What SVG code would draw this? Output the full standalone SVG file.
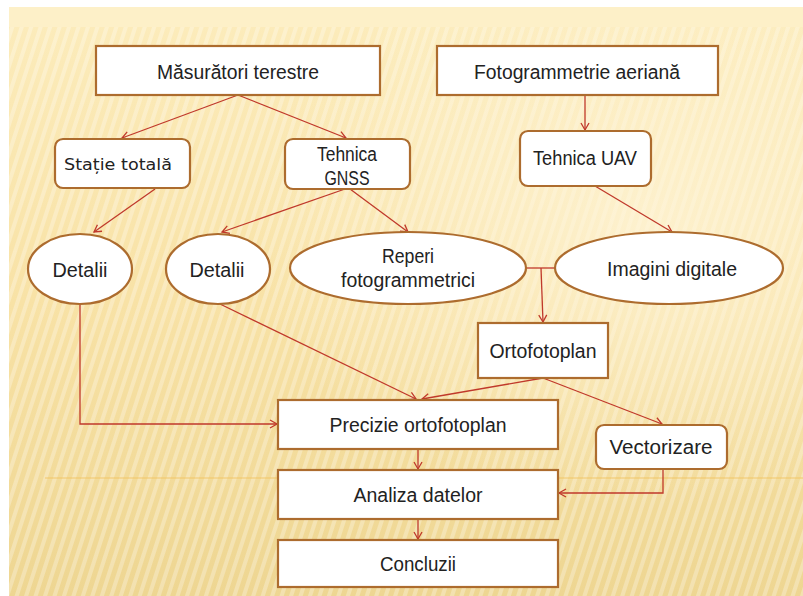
<svg xmlns="http://www.w3.org/2000/svg" width="803" height="596" viewBox="0 0 803 596">
<defs>
<linearGradient id="bg" x1="0" y1="0" x2="0" y2="1">
<stop offset="0" stop-color="#fcecbc"/>
<stop offset="0.5" stop-color="#f8e2a6"/>
<stop offset="1" stop-color="#eed692"/>
</linearGradient>
<pattern id="stripes" width="9" height="9" patternUnits="userSpaceOnUse" patternTransform="rotate(18)">
<rect width="4" height="9" fill="#ffffff" opacity="0.28"/>
</pattern>
<radialGradient id="glow" cx="0.8" cy="0.35" r="0.5">
<stop offset="0" stop-color="#fff6dc" stop-opacity="0.7"/>
<stop offset="1" stop-color="#fff6dc" stop-opacity="0"/>
</radialGradient>
<marker id="arr" markerWidth="10" markerHeight="10" refX="8" refY="5" orient="auto" markerUnits="userSpaceOnUse">
<path d="M1,1 L8,5 L1,9" fill="none" stroke="#c0392b" stroke-width="1.3"/>
</marker>
</defs>
<style>
.box{fill:#ffffff;stroke:#ad6c2e;stroke-width:2.2}
.t{font-family:"Liberation Sans",Arial,sans-serif;font-size:19.5px;fill:#222;text-anchor:middle}
.t2{font-family:"DejaVu Sans",Verdana,sans-serif;font-size:16.5px;fill:#222;text-anchor:middle}
.c{fill:none;stroke:#c0392b;stroke-width:1.3}
</style>
<rect x="0" y="0" width="803" height="596" fill="#ffffff"/>
<rect x="9" y="7" width="794" height="589" fill="url(#bg)"/>
<rect x="9" y="27" width="794" height="569" fill="url(#stripes)"/>
<rect x="9" y="27" width="794" height="569" fill="url(#glow)"/>
<rect x="9" y="7" width="794" height="20" fill="#fdf0c8"/>
<line x1="45" y1="478" x2="803" y2="478" stroke="#f2c25a" stroke-width="1.2" opacity="0.8"/>

<g id="connectors">
<path class="c" d="M238,95 L122,138" marker-end="url(#arr)"/>
<path class="c" d="M238,95 L346,138" marker-end="url(#arr)"/>
<path class="c" d="M585,95 L585,130" marker-end="url(#arr)"/>
<path class="c" d="M155,189 L94,232" marker-end="url(#arr)"/>
<path class="c" d="M345,189 L222,232" marker-end="url(#arr)"/>
<path class="c" d="M350,189 L408,232" marker-end="url(#arr)"/>
<path class="c" d="M595,186 L672,232" marker-end="url(#arr)"/>
<path class="c" d="M526,268 L555,268"/>
<path class="c" d="M541,268 L543,322" marker-end="url(#arr)"/>
<path class="c" d="M80,304 L80,424 L277,424" marker-end="url(#arr)"/>
<path class="c" d="M220,304 L416,399" marker-end="url(#arr)"/>
<path class="c" d="M543,378 L422,399" marker-end="url(#arr)"/>
<path class="c" d="M543,378 L662,424" marker-end="url(#arr)"/>
<path class="c" d="M418,449 L418,469" marker-end="url(#arr)"/>
<path class="c" d="M663,469 L663,493 L559,493" marker-end="url(#arr)"/>
<path class="c" d="M418,519 L418,539" marker-end="url(#arr)"/>
</g>

<g id="masuratori"><rect class="box" x="96" y="46" width="284" height="49"/><text class="t" x="238" y="79" textLength="162" lengthAdjust="spacingAndGlyphs">Măsurători terestre</text></g>
<g id="fotogrammetrie"><rect class="box" x="437" y="46" width="281" height="49"/><text class="t" x="577" y="79" textLength="206" lengthAdjust="spacingAndGlyphs">Fotogrammetrie aeriană</text></g>
<g id="statie"><rect class="box" x="55" y="139" width="135" height="49" rx="8"/><text class="t2" x="118" y="170" textLength="108" lengthAdjust="spacingAndGlyphs">Stație totală</text></g>
<g id="gnss"><rect class="box" x="285" y="139" width="125" height="50" rx="8"/><text class="t" x="347" y="161" textLength="60" lengthAdjust="spacingAndGlyphs">Tehnica</text><text class="t" x="347" y="185" textLength="45" lengthAdjust="spacingAndGlyphs">GNSS</text></g>
<g id="uav"><rect class="box" x="520" y="131" width="131" height="55" rx="8"/><text class="t" x="585" y="165" textLength="104" lengthAdjust="spacingAndGlyphs">Tehnica UAV</text></g>
<g id="detalii1"><ellipse class="box" cx="80" cy="269" rx="52" ry="35"/><text class="t" x="80" y="277" textLength="55" lengthAdjust="spacingAndGlyphs">Detalii</text></g>
<g id="detalii2"><ellipse class="box" cx="218" cy="269" rx="52" ry="35"/><text class="t" x="217" y="277" textLength="55" lengthAdjust="spacingAndGlyphs">Detalii</text></g>
<g id="reperi"><ellipse class="box" cx="408" cy="268" rx="118" ry="36"/><text class="t" x="408" y="263" textLength="52" lengthAdjust="spacingAndGlyphs">Reperi</text><text class="t" x="408" y="287" textLength="134" lengthAdjust="spacingAndGlyphs">fotogrammetrici</text></g>
<g id="imagini"><ellipse class="box" cx="669" cy="268" rx="114" ry="36"/><text class="t" x="672" y="276" textLength="130" lengthAdjust="spacingAndGlyphs">Imagini digitale</text></g>
<g id="ortofotoplan"><rect class="box" x="478" y="323" width="130" height="55"/><text class="t" x="543" y="358" textLength="107" lengthAdjust="spacingAndGlyphs">Ortofotoplan</text></g>
<g id="precizie"><rect class="box" x="278" y="400" width="280" height="49"/><text class="t" x="418" y="432" textLength="177" lengthAdjust="spacingAndGlyphs">Precizie ortofotoplan</text></g>
<g id="vectorizare"><rect class="box" x="596" y="425" width="131" height="44" rx="8"/><text class="t" x="661" y="454" textLength="103" lengthAdjust="spacingAndGlyphs">Vectorizare</text></g>
<g id="analiza"><rect class="box" x="278" y="470" width="280" height="49"/><text class="t" x="418" y="502" textLength="129" lengthAdjust="spacingAndGlyphs">Analiza datelor</text></g>
<g id="concluzii"><rect class="box" x="278" y="540" width="280" height="47"/><text class="t" x="418" y="571" textLength="76" lengthAdjust="spacingAndGlyphs">Concluzii</text></g>
</svg>
